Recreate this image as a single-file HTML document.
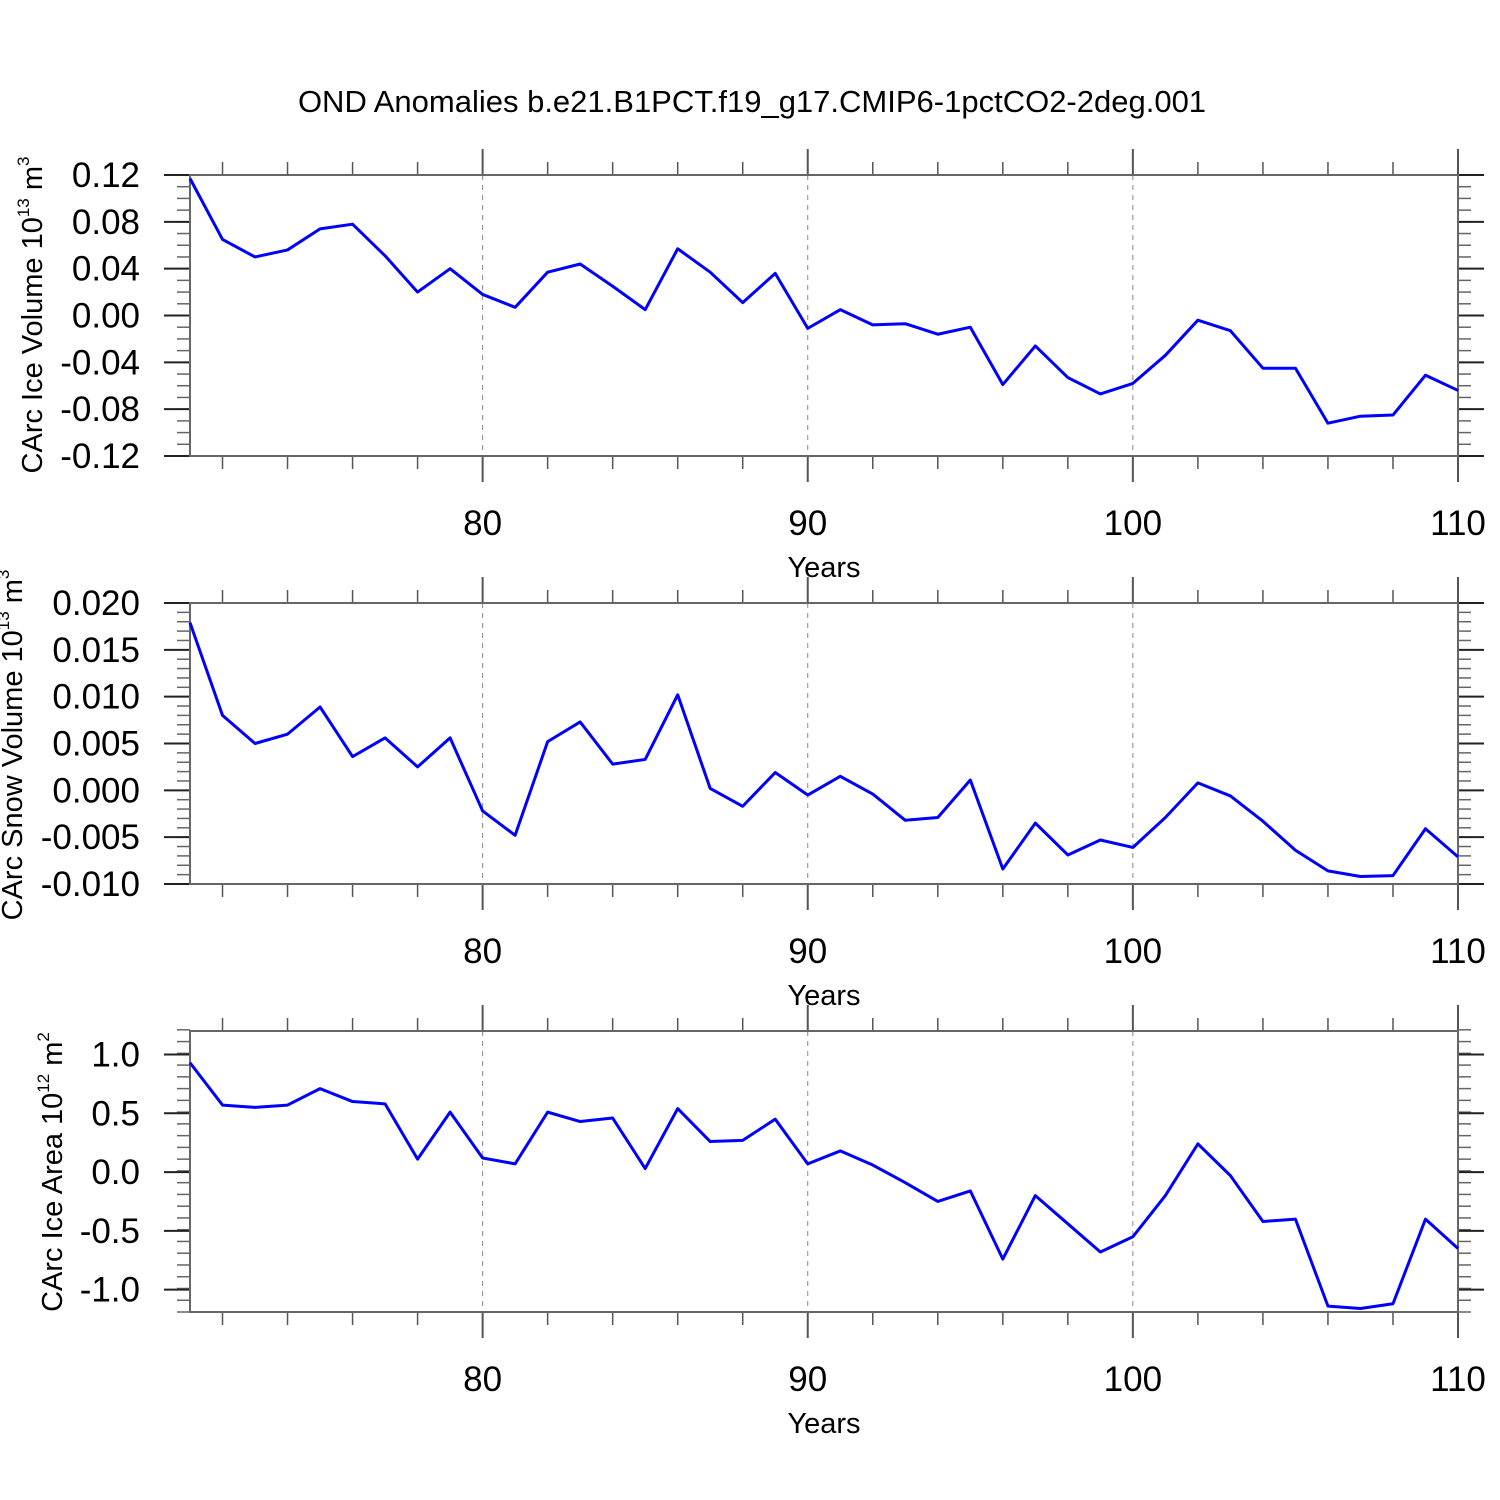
<!DOCTYPE html>
<html><head><meta charset="utf-8"><style>
html,body{margin:0;padding:0;background:#fff;}
svg{display:block;font-family:"Liberation Sans",sans-serif;}
</style></head><body>
<svg id="c" width="1500" height="1500" viewBox="0 0 1500 1500">
<text x="752" y="112" font-size="31" text-anchor="middle">OND Anomalies b.e21.B1PCT.f19_g17.CMIP6-1pctCO2-2deg.001</text>
</svg>
<script>
const years = [71,72,73,74,75,76,77,78,79,80,81,82,83,84,85,86,87,88,89,90,91,92,93,94,95,96,97,98,99,100,101,102,103,104,105,106,107,108,109,110];
const iceVolume = [0.117,0.065,0.050,0.056,0.074,0.078,0.051,0.020,0.040,0.018,0.007,0.037,0.044,0.025,0.005,0.057,0.037,0.011,0.036,-0.011,0.005,-0.008,-0.007,-0.016,-0.010,-0.059,-0.026,-0.053,-0.067,-0.058,-0.034,-0.004,-0.013,-0.045,-0.045,-0.092,-0.086,-0.085,-0.051,-0.064];
const snowVolume = [0.0179,0.0080,0.0050,0.0060,0.0089,0.0036,0.0056,0.0025,0.0056,-0.0022,-0.0048,0.0052,0.0073,0.0028,0.0033,0.0102,0.0002,-0.0017,0.0019,-0.0005,0.0015,-0.0004,-0.0032,-0.0029,0.0011,-0.0084,-0.0035,-0.0069,-0.0053,-0.0061,-0.0029,0.0008,-0.0006,-0.0033,-0.0064,-0.0086,-0.0092,-0.0091,-0.0041,-0.0071];
const iceArea = [0.93,0.57,0.55,0.57,0.71,0.60,0.58,0.11,0.51,0.12,0.07,0.51,0.43,0.46,0.03,0.54,0.26,0.27,0.45,0.07,0.18,0.06,-0.09,-0.25,-0.16,-0.74,-0.20,-0.44,-0.68,-0.55,-0.20,0.24,-0.03,-0.42,-0.40,-1.14,-1.16,-1.12,-0.40,-0.65];
const xTicks = [80,90,100,110];
const iceVolTicks = ["0.12","0.08","0.04","0.00","-0.04","-0.08","-0.12"];
const snowTicks = ["0.020","0.015","0.010","0.005","0.000","-0.005","-0.010"];
const areaTicks = ["1.0","0.5","0.0","-0.5","-1.0"];

const NS="http://www.w3.org/2000/svg";
const svg=document.getElementById('c');
const X0=190,X1=1458,XMIN=71,XMAX=110;
const xs=v=>X0+(v-XMIN)/(XMAX-XMIN)*(X1-X0);
function el(tag,attrs,parent){const e=document.createElementNS(NS,tag);for(const k in attrs)e.setAttribute(k,attrs[k]);(parent||svg).appendChild(e);return e;}

function panel(key,top,ymin,ymax,ticks,minorStep,series,labelHTML,labelX,labelY){
  const bot=top+281;
  const ys=v=>bot-(v-ymin)/(ymax-ymin)*(bot-top);
  const g=el('g',{});
  
  
  xTicks.forEach(t=>{ if(t<XMAX){const l=el('line',{x1:xs(t),x2:xs(t),y1:top,y2:bot,stroke:'#888','stroke-width':1,'stroke-dasharray':'5,5'},g);
    
    }});
  for(let y=72;y<=110;y+=2){
    const major=xTicks.includes(y);const len=major?26:13;
    el('line',{x1:xs(y),x2:xs(y),y1:top,y2:top-len,stroke:'#555','stroke-width':major?2:1.5},g);
    el('line',{x1:xs(y),x2:xs(y),y1:bot,y2:bot+len,stroke:'#555','stroke-width':major?2:1.5},g);
  }
  xTicks.forEach(t=>{const tx=el('text',{x:xs(t),y:bot+79,'font-size':35,'text-anchor':'middle'},g);tx.textContent=t;
    
    });
  const xt=el('text',{x:824,y:bot+121,'font-size':29,'text-anchor':'middle'},g);xt.textContent='Years';
  
  
  const n=Math.round((ymax-ymin)/minorStep);
  for(let i=0;i<=n;i++){const v=ymin+i*minorStep;
    el('line',{x1:X0,x2:X0-13,y1:ys(v),y2:ys(v),stroke:'#666','stroke-width':1.5},g);
    el('line',{x1:X1,x2:X1+13,y1:ys(v),y2:ys(v),stroke:'#666','stroke-width':1.5},g);}
  ticks.forEach(t=>{const v=parseFloat(t);
    el('line',{x1:X0,x2:X0-26,y1:ys(v),y2:ys(v),stroke:'#222','stroke-width':2},g);
    el('line',{x1:X1,x2:X1+26,y1:ys(v),y2:ys(v),stroke:'#222','stroke-width':2},g);
    const tx=el('text',{x:140,y:ys(v)+12,'font-size':35,'text-anchor':'end'},g);tx.textContent=t;
    
    });
  el('rect',{x:X0,y:top,width:X1-X0,height:bot-top,fill:'none',stroke:'#666','stroke-width':2},g);
  const pts=series.map((v,i)=>xs(years[i])+','+ys(v)).join(' ');
  const pl=el('polyline',{points:pts,fill:'none',stroke:'#0000ff','stroke-width':3,'stroke-linejoin':'round'},g);
  
  
  const yt=el('text',{x:0,y:0,'font-size':29,'text-anchor':'middle',transform:`translate(${labelX},${labelY}) rotate(-90)`},g);
  yt.innerHTML=labelHTML;
  
  
}
panel('ice-volume',175,-0.12,0.12,iceVolTicks,0.01,iceVolume,'CArc Ice Volume 10<tspan dy="-13" font-size="17">13</tspan><tspan dy="13"> m</tspan><tspan dy="-13" font-size="17">3</tspan>',42,315);
panel('snow-volume',603,-0.01,0.02,snowTicks,0.001,snowVolume,'CArc Snow Volume 10<tspan dy="-13" font-size="17">13</tspan><tspan dy="13"> m</tspan><tspan dy="-13" font-size="17">3</tspan>',22,745);
panel('ice-area',1031,-1.19,1.2,areaTicks,0.1,iceArea,'CArc Ice Area 10<tspan dy="-13" font-size="17">12</tspan><tspan dy="13"> m</tspan><tspan dy="-13" font-size="17">2</tspan>',62,1172);
</script>
</body></html>
